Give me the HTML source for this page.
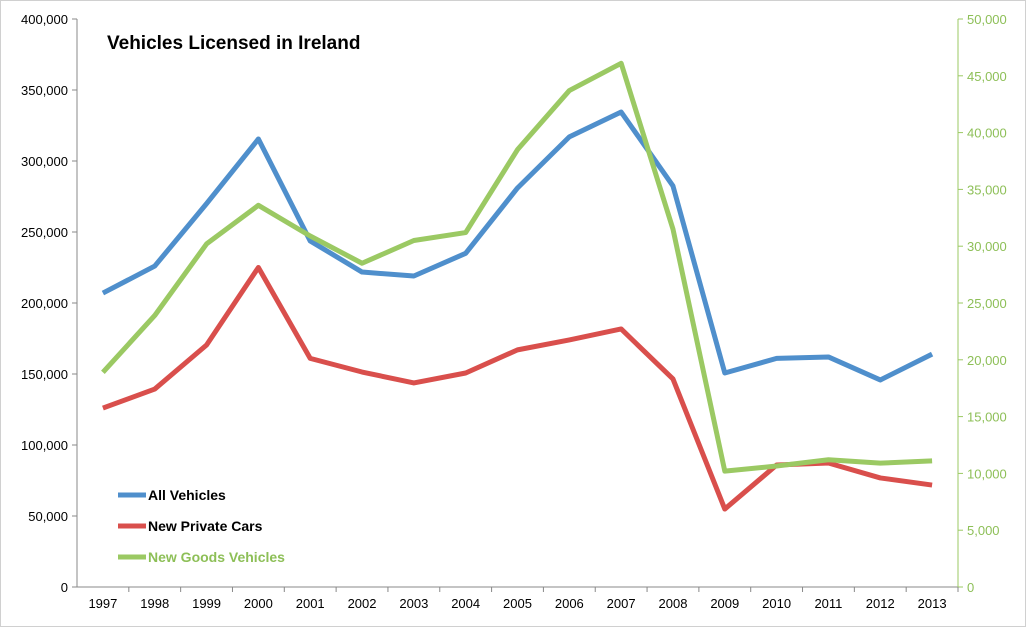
<!DOCTYPE html>
<html><head><meta charset="utf-8"><style>
html,body{margin:0;padding:0;background:#fff;}
svg{display:block;font-family:"Liberation Sans",sans-serif;}
</style></head><body>
<svg id="chart" width="1026" height="627">
<rect x="0.5" y="0.5" width="1025" height="626" fill="#fff" stroke="#d0d0d0"/>
<text x="107" y="49" font-size="19" font-weight="bold" fill="#000">Vehicles Licensed in Ireland</text>
<g id="axes"></g><g id="series"></g>
<g>
<line x1="118" y1="495" x2="146" y2="495" stroke="#4f8fcc" stroke-width="5"/>
<text x="148" y="500" font-size="14" font-weight="bold">All Vehicles</text>
<line x1="118" y1="526" x2="146" y2="526" stroke="#d94f4c" stroke-width="5"/>
<text x="148" y="531" font-size="14" font-weight="bold">New Private Cars</text>
<line x1="118" y1="557" x2="146" y2="557" stroke="#9bc963" stroke-width="5"/>
<text x="148" y="562" font-size="14" font-weight="bold" fill="#8dbf57">New Goods Vehicles</text>
</g>
</svg>
<script>
const years=[1997,1998,1999,2000,2001,2002,2003,2004,2005,2006,2007,2008,2009,2010,2011,2012,2013];
const allVehicles=[207000,226000,270000,315500,243700,221800,219000,235000,281000,317000,334500,282400,150700,161000,162000,145800,164000];
const privateCars=[126000,139400,170400,225000,161000,151400,143700,150700,167000,174000,181700,146500,54900,85900,87300,76800,71800];
const goodsVehicles=[18900,23900,30200,33600,30900,28500,30500,31200,38500,43700,46100,31500,10200,10650,11200,10900,11100];
const leftTicks=[0,50000,100000,150000,200000,250000,300000,350000,400000];
const rightTicks=[0,5000,10000,15000,20000,25000,30000,35000,40000,45000,50000];
const NS="http://www.w3.org/2000/svg";
const L=77,R=958,T=19,B=587;
const step=(R-L)/years.length;
const xs=i=>L+step*(i+0.5);
const yl=v=>B-(v/400000)*(B-T);
const yr=v=>B-(v/50000)*(B-T);
const fmt=v=>v.toLocaleString('en-US');
function mk(tag,attrs,parent){const e=document.createElementNS(NS,tag);for(const k in attrs)e.setAttribute(k,attrs[k]);parent.appendChild(e);return e;}
const ax=document.getElementById('axes');
let e=mk('line',{x1:L,y1:T,x2:L,y2:B,stroke:'#888'},ax);


e=mk('line',{x1:L,y1:B,x2:R,y2:B,stroke:'#888'},ax);


e=mk('line',{x1:R,y1:T,x2:R,y2:B,stroke:'#9bc963'},ax);


leftTicks.forEach(v=>{
 mk('line',{x1:L-5,y1:yl(v),x2:L,y2:yl(v),stroke:'#888'},ax);
 const t=mk('text',{x:L-9,y:yl(v)+5,'font-size':13,'text-anchor':'end',fill:'#000'},ax);
 t.textContent=fmt(v);
 
 
});
rightTicks.forEach(v=>{
 mk('line',{x1:R,y1:yr(v),x2:R+5,y2:yr(v),stroke:'#9bc963'},ax);
 const t=mk('text',{x:R+9,y:yr(v)+5,'font-size':13,fill:'#8dbf57'},ax);
 t.textContent=fmt(v);
 
 
});
years.forEach((y,i)=>{
 mk('line',{x1:L+step*(i+1),y1:B,x2:L+step*(i+1),y2:B+5,stroke:'#888'},ax);
 const t=mk('text',{x:xs(i),y:B+21,'font-size':13,'text-anchor':'middle'},ax);
 t.textContent=y;
 
 
});
const sg=document.getElementById('series');
function line(data,yf,color,name){
 const p=mk('polyline',{points:data.map((v,i)=>xs(i)+','+yf(v)).join(' '),fill:'none',stroke:color,'stroke-width':5,'stroke-linejoin':'round'},sg);
 
 
}
line(allVehicles,yl,'#4f8fcc','all-vehicles-line');
line(privateCars,yl,'#d94f4c','private-cars-line');
line(goodsVehicles,yr,'#9bc963','goods-vehicles-line');
</script>
</body></html>
